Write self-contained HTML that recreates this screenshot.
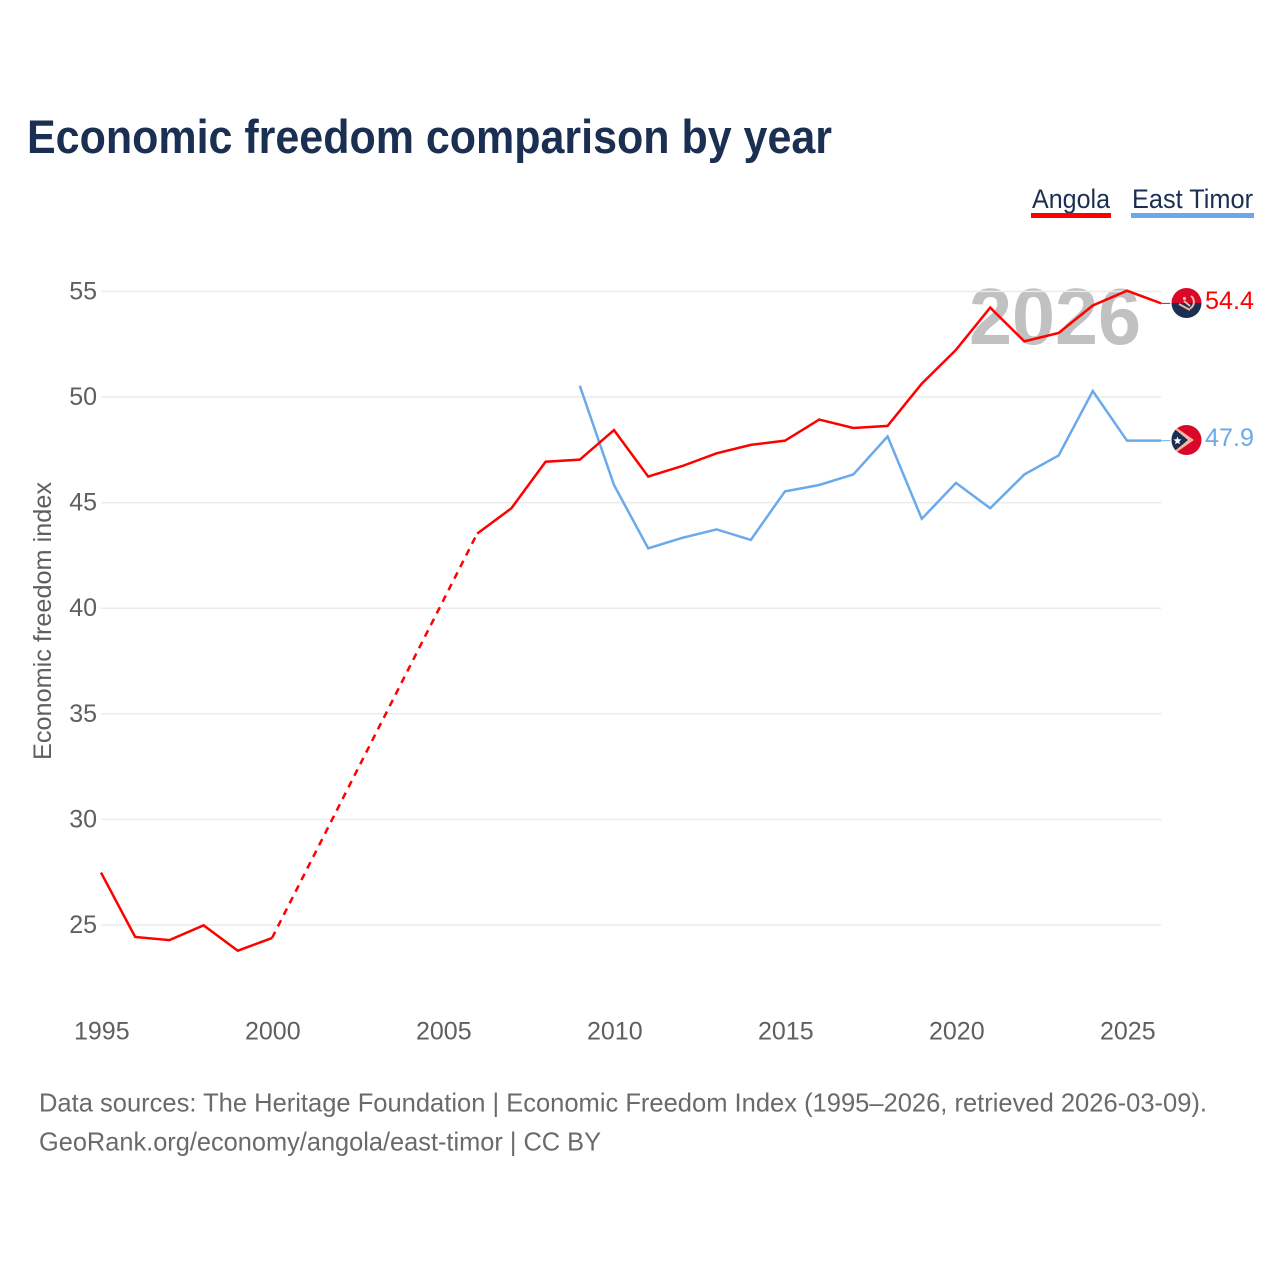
<!DOCTYPE html>
<html lang="en">
<head>
<meta charset="utf-8">
<title>Economic freedom comparison by year</title>
<style>
html,body{margin:0;padding:0;background:#fff;width:1280px;height:1280px;overflow:hidden}
svg{display:block}
text{font-family:"Liberation Sans",sans-serif}
</style>
</head>
<body>
<svg id="chart" xmlns="http://www.w3.org/2000/svg" width="1280" height="1280" viewBox="0 0 1280 1280">
  <rect width="1280" height="1280" fill="#fff"/>
  <text x="27" y="153" font-size="47" font-weight="700" fill="#1a2f52" textLength="805" lengthAdjust="spacingAndGlyphs">Economic freedom comparison by year</text>

  <g>
    <text x="1032" y="208" font-size="27" fill="#1a2f52" textLength="78" lengthAdjust="spacingAndGlyphs">Angola</text>
    <rect x="1031" y="213" width="80" height="5" fill="#ff0000"/>
  </g>
  <g>
    <text x="1132" y="208" font-size="27" fill="#1a2f52" textLength="121" lengthAdjust="spacingAndGlyphs">East Timor</text>
    <rect x="1131" y="213" width="123" height="5" fill="#6aaaea"/>
  </g>

  <text x="969" y="344" font-size="80" font-weight="700" fill="#c0c1c0" textLength="172" lengthAdjust="spacingAndGlyphs">2026</text>

  <g id="grid"></g>
  <g id="yticks"></g>
  <g id="xticks"></g>
  <text transform="translate(51,621) rotate(-90)" text-anchor="middle" font-size="25" fill="#5f5f5f" textLength="278" lengthAdjust="spacingAndGlyphs">Economic freedom index</text>
  <g id="series"></g>

  <defs>
    <clipPath id="flag-clip-a"><circle cx="1186.5" cy="303" r="15"/></clipPath>
    <clipPath id="flag-clip-b"><circle cx="1186.5" cy="440" r="15"/></clipPath>
  </defs>
  <g clip-path="url(#flag-clip-a)">
    <rect x="1171" y="288" width="31" height="15" fill="#d9082a"/>
    <rect x="1171" y="303" width="31" height="16" fill="#1a2f52"/>
    <path d="M1191 296a7.500 7.500 0 0 1-1 12.500M1179 304l11 6M1184 301l6 5" fill="none" stroke="#f8b59f" stroke-width="2"/>
    <circle cx="1184.500" cy="298.500" r="1.600" fill="#f8b59f"/>
  </g>
  <g clip-path="url(#flag-clip-b)">
    <rect x="1171" y="425" width="31" height="30" fill="#d9082a"/>
    <path d="M1171 424L1194 440L1171 456Z" fill="#f8b59f"/>
    <path d="M1171 426L1188 440L1171 454Z" fill="#1a2f52"/>
    <path d="M1177.500 436.500l1 2.800 3 .2-2.300 1.900 .8 2.900-2.500-1.600-2.500 1.600 .8-2.900-2.300-1.900 3-.2z" fill="#fff"/>
  </g>
  <text x="1205" y="309" font-size="25" fill="#ff0000" textLength="49" lengthAdjust="spacingAndGlyphs">54.4</text>
  <text x="1205" y="446" font-size="25" fill="#6aaaea" textLength="49" lengthAdjust="spacingAndGlyphs">47.9</text>

  <text x="39" y="1111.500" font-size="26" fill="#6a6a6a" textLength="1168" lengthAdjust="spacingAndGlyphs">Data sources: The Heritage Foundation | Economic Freedom Index (1995–2026, retrieved 2026-03-09).</text>
  <text x="39" y="1150.500" font-size="26" fill="#6a6a6a" textLength="562" lengthAdjust="spacingAndGlyphs">GeoRank.org/economy/angola/east-timor | CC BY</text>
</svg>
<script>
const years = [1995,1996,1997,1998,1999,2000,2001,2002,2003,2004,2005,2006,2007,2008,2009,2010,2011,2012,2013,2014,2015,2016,2017,2018,2019,2020,2021,2022,2023,2024,2025,2026];
const angolaValues = [27.45,24.4,24.25,24.95,23.75,24.35,null,null,null,null,null,43.5,44.7,46.9,47.0,48.4,46.2,46.7,47.3,47.7,47.9,48.9,48.5,48.6,50.6,52.2,54.2,52.6,53.0,54.3,55.0,54.4];
const eastTimorValues = [null,null,null,null,null,null,null,null,null,null,null,null,null,null,50.5,45.8,42.8,43.3,43.7,43.2,45.5,45.8,46.3,48.1,44.2,45.9,44.7,46.3,47.2,50.25,47.9,47.9];
const yTickValues = [25,30,35,40,45,50,55];
const xTickValues = [1995,2000,2005,2010,2015,2020,2025];

const NS = 'http://www.w3.org/2000/svg';
const xScale = function (year) { return 101 + (year - 1995) * 34.2; };
const yScale = function (value) { return 925 - (value - 25) * 21.12; };
const plotRight = xScale(2026);
const lineLift = 0.7;

const gridGroup = document.getElementById('grid');
const yTickGroup = document.getElementById('yticks');
yTickValues.forEach(function (tick) {
  const line = document.createElementNS(NS, 'line');
  
  
  line.setAttribute('x1', 101);
  line.setAttribute('x2', plotRight);
  line.setAttribute('y1', yScale(tick));
  line.setAttribute('y2', yScale(tick));
  line.setAttribute('stroke', '#ebebeb');
  line.setAttribute('stroke-width', '1.5');
  gridGroup.appendChild(line);

  const label = document.createElementNS(NS, 'text');
  
  
  label.setAttribute('x', 97);
  label.setAttribute('y', yScale(tick) + 8);
  label.setAttribute('text-anchor', 'end');
  label.setAttribute('font-size', '25');
  label.setAttribute('fill', '#5f5f5f');
  label.textContent = String(tick);
  yTickGroup.appendChild(label);
});

const xTickGroup = document.getElementById('xticks');
xTickValues.forEach(function (tick) {
  const label = document.createElementNS(NS, 'text');
  
  
  label.setAttribute('x', xScale(tick) + 0.8);
  label.setAttribute('y', 1039.5);
  label.setAttribute('text-anchor', 'middle');
  label.setAttribute('font-size', '25');
  label.setAttribute('fill', '#5f5f5f');
  label.textContent = String(tick);
  xTickGroup.appendChild(label);
});

const seriesGroup = document.getElementById('series');
function drawPath(points, color, dashed, name) {
  const path = document.createElementNS(NS, 'path');
  
  
  path.setAttribute('d', points.map(function (p, i) {
    return (i ? 'L' : 'M') + xScale(p[0]).toFixed(2) + ' ' + (yScale(p[1]) - lineLift).toFixed(2);
  }).join(' '));
  path.setAttribute('fill', 'none');
  path.setAttribute('stroke', color);
  path.setAttribute('stroke-width', '2.5');
  path.setAttribute('stroke-linejoin', 'miter');
  if (dashed) path.setAttribute('stroke-dasharray', '7 6');
  seriesGroup.appendChild(path);
}
function drawSeries(values, color, name) {
  let run = [];
  let previous = null;
  values.forEach(function (value, i) {
    if (value === null) {
      if (run.length) drawPath(run, color, false, name + '-line');
      run = [];
      return;
    }
    const point = [years[i], value];
    if (!run.length && previous) drawPath([previous, point], color, true, name + '-gap-line');
    run.push(point);
    previous = point;
  });
  if (run.length) drawPath(run, color, false, name + '-line');
  const lastValue = values[values.length - 1];
  const connector = document.createElementNS(NS, 'line');
  
  
  connector.setAttribute('x1', plotRight);
  connector.setAttribute('x2', plotRight + 9);
  connector.setAttribute('y1', yScale(lastValue) - lineLift);
  connector.setAttribute('y2', yScale(lastValue) - lineLift);
  connector.setAttribute('stroke', color);
  connector.setAttribute('stroke-width', '1');
  seriesGroup.appendChild(connector);
}
drawSeries(eastTimorValues, '#6aaaea', 'east-timor');
drawSeries(angolaValues, '#ff0000', 'angola');
</script>
</body>
</html>
